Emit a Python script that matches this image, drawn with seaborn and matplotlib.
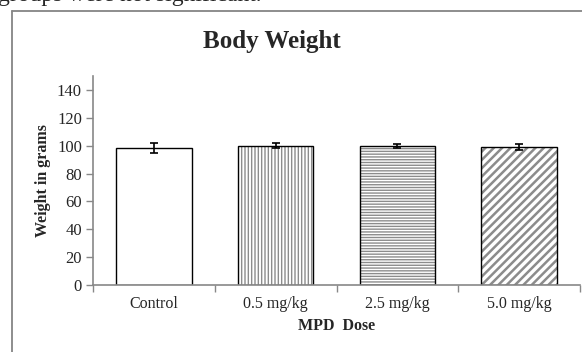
import numpy as np
import matplotlib
matplotlib.use('Agg')
import matplotlib.pyplot as plt
from matplotlib.lines import Line2D
from matplotlib.ticker import FixedLocator
import seaborn as sns

sns.set_style('white')
plt.rcParams['font.family'] = ['Liberation Serif', 'DejaVu Serif']
plt.rcParams['hatch.linewidth'] = 1.0

# data
doses = ['Control', '0.5 mg/kg', '2.5 mg/kg', '5.0 mg/kg']
weights = [98, 100, 100, 99]
errs = [3.6, 1.8, 1.4, 2.0]
hatches = ['', '|||||', '------', '////']
hatch_lw = [1.0, 1.0, 1.0, 1.8]

fig = plt.figure(figsize=(5.82, 3.52), dpi=100)
W, H = 582, 352
ax = fig.add_axes([93 / W, 1 - 285 / H, (580 - 93) / W, (285 - 76) / H])

# hatched fill in grey, then black outline on top
sns.barplot(x=doses, y=weights, color='white', edgecolor='#8c8c8c',
            linewidth=0, width=0.62, ax=ax, errorbar=None)
for p, h, lw in zip(ax.patches, hatches, hatch_lw):
    p.set_hatch(h)
    if hasattr(p, 'set_hatch_linewidth'):
        p.set_hatch_linewidth(lw)
sns.barplot(x=doses, y=weights, fill=False, edgecolor='black',
            linewidth=1.0, width=0.62, ax=ax, errorbar=None)
ax.errorbar(np.arange(len(doses)), weights, yerr=errs, fmt='none',
            ecolor='black', elinewidth=1.2, capsize=3, capthick=1.2)

ax.set_ylim(0, 150)
ax.set_xlim(-0.5, len(doses) - 0.5)
ax.set_yticks(range(0, 141, 20))
ax.xaxis.set_minor_locator(FixedLocator(np.arange(-0.5, len(doses), 1.0)))
ax.tick_params(axis='x', which='major', length=0, pad=8, labelsize=11.5)
ax.tick_params(axis='x', which='minor', length=5, width=1, color='#888888',
               direction='out', bottom=True)
ax.tick_params(axis='y', length=5, width=1, color='#888888', direction='out',
               left=True, labelsize=12, pad=3)
for s in ['top', 'right']:
    ax.spines[s].set_visible(False)
for s in ['left', 'bottom']:
    ax.spines[s].set_color('#888888')
    ax.spines[s].set_linewidth(1.2)

ax.set_xlabel('MPD  Dose', fontsize=11.5, fontweight='bold', labelpad=4)
ax.set_ylabel('Weight in grams', fontsize=11.5, fontweight='bold', labelpad=4)

fig.text(272 / W, 1 - 48 / H, 'Body Weight', fontsize=18, fontweight='bold',
         ha='center', va='baseline')

# chart frame and clipped document text above it
fig.add_artist(Line2D([11.5 / W, 1.01], [1 - 10.5 / H, 1 - 10.5 / H],
                      transform=fig.transFigure, color='#858585', lw=1.3))
fig.add_artist(Line2D([11.5 / W, 11.5 / W], [1 - 10.5 / H, -0.01],
                      transform=fig.transFigure, color='#858585', lw=1.3))
fig.text(-2 / W, 1 - 1 / H, 'groups were not significant.', fontsize=17,
         ha='left', va='baseline')

fig.savefig('out.png', dpi=100)
